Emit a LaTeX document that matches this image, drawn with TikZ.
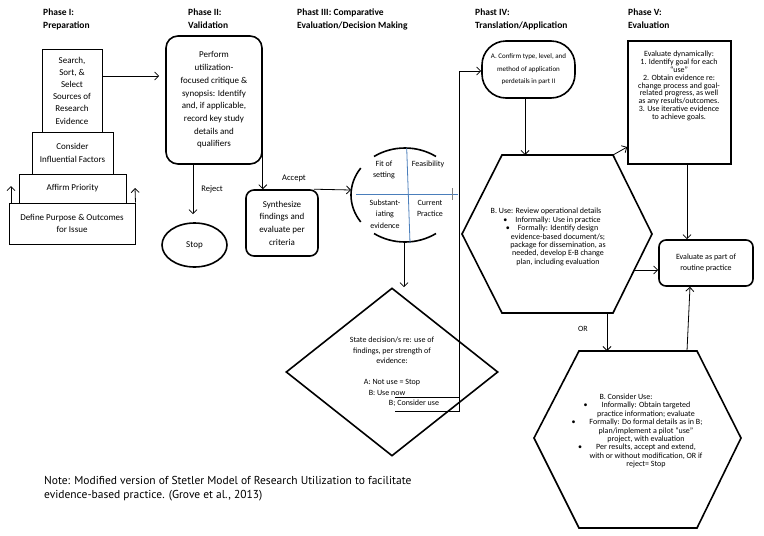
\documentclass[tikz,border=0pt]{standalone}
\usepackage{fontspec}
\setmainfont{Carlito}
\newfontfamily\notefont{PT Sans}
\usetikzlibrary{arrows.meta,shapes.geometric}
\definecolor{qline}{RGB}{74,126,187}
\begin{document}
\begin{tikzpicture}[x=1pt,y=-1pt,
  arr/.style={-{Straight Barb[length=4pt,width=8pt]}, line width=0.8pt},
  plain/.style={line width=0.8pt},
  ttl/.style={anchor=north west, inner sep=0, align=left, font=\bfseries\fontsize{9.5}{12.5}\selectfont},
  stack/.style={draw, line width=1pt, inner sep=0, align=center, font=\fontsize{9}{12.2}\selectfont},
  rbox/.style={draw, line width=1.6pt, inner sep=0, align=center, font=\fontsize{9}{12.7}\selectfont},
  lbl/.style={inner sep=0, align=center, font=\fontsize{8.5}{11}\selectfont},
  qtxt/.style={inner sep=0, align=center, font=\fontsize{8}{11.5}\selectfont},
  small/.style={inner sep=0, align=center, font=\fontsize{8}{8.4}\selectfont},
  hex/.style={draw, line width=1.6pt, line join=miter},
]
\useasboundingbox[fill=white] (0,0) rectangle (764,536);

% titles
\node[ttl] (t1) at (43,9) {Phase I:\\Preparation};
\node[ttl] (t2) at (188,9) {Phase II:\\Validation};
\node[ttl] (t3) at (297,9) {Phast III: Comparative\\Evaluation/Decision Making};
\node[ttl] (t4) at (475,9) {Phast IV:\\Translation/Application};
\node[ttl] (t5) at (628,9) {Phase V:\\Evaluation};

% Phase I stack
\node[stack, minimum width=60pt, minimum height=83pt] (s1) at (72,90.5) {Search,\\Sort, \&\\Select\\Sources of\\Research\\Evidence};
\node[stack, minimum width=81pt, minimum height=42pt] (s2) at (72.5,153) {Consider\\Influential Factors};
\node[stack, minimum width=107pt, minimum height=29pt] (s3) at (72.5,188.5) {Affirm Priority};
\node[stack, minimum width=126pt, minimum height=41pt] (s4) at (72,223.5) {Define Purpose \& Outcomes\\for Issue};
\coordinate (uL) at (11,186);
\coordinate (uR) at (135,188);
\draw[arr] (s4.north west -| uL) -- (uL);
\draw[arr] (s4.north east) -- (uR);

% Phase II
\node[rbox, minimum width=96pt, minimum height=128pt, rounded corners=12pt] (p) at (214,100) {Perform\\utilization-\\focused critique \&\\synopsis: Identify\\and, if applicable,\\record key study\\details and\\qualifiers};
\draw[arr, shorten >=6pt] (s1.east |- 0,76) -- (p.west |- 0,76);
\node[draw, ellipse, line width=1.6pt, minimum width=65pt, minimum height=44pt, inner sep=0, font=\fontsize{9}{11}\selectfont] (stop) at (194.5,245) {Stop};
\draw[arr, shorten >=8pt] (p.south -| 193,0) -- (stop.north -| 193,0);
\node[lbl] (rej) at (212,189) {Reject};
\node[rbox, minimum width=72pt, minimum height=66pt, rounded corners=8pt] (s) at (282,223) {Synthesize\\findings and\\evaluate per\\criteria};
\draw[arr] (p.east |- 0,150) -- (p.east |- s.north);
\node[lbl] (acc) at (294,178) {Accept};

% Phase III circle
\coordinate (cc) at (405,195);
\coordinate (ciL) at (351,190);
\draw[arr] ([xshift=-5pt]s.north east) -- (ciL);
\draw[line width=1.6pt] (cc) ++(55:54pt and 47pt) arc[start angle=55, end angle=125, x radius=54pt, y radius=47pt];
\draw[line width=1.6pt] (cc) ++(145:54pt and 47pt) arc[start angle=145, end angle=215, x radius=54pt, y radius=47pt];
\draw[line width=1.6pt] (cc) ++(235:54pt and 47pt) arc[start angle=235, end angle=305, x radius=54pt, y radius=47pt];
\draw[qline, line width=0.8pt] (356,194) -- (458,194);
\draw[qline, line width=0.8pt] (406.7,148) -- (410,243);
\draw[gray, line width=0.6pt] (452,188) -- (452,200);
\node[qtxt] (q1) at (384,170) {Fit of\\setting};
\node[qtxt] (q2) at (428,164) {Feasibility};
\node[qtxt] (q3) at (385,214) {Substant-\\iating\\evidence};
\node[qtxt] (q4) at (430,208.5) {Current\\Practice};

% diamond
\node[diamond, draw, line width=1.6pt, minimum width=212pt, minimum height=168pt, inner sep=0] (d) at (392,372) {};
\coordinate (cB) at (404,243);
\draw[arr] (cB) -- (cB |- d.north);
\node[inner sep=0, align=center, font=\fontsize{8}{10.5}\selectfont] (dt) at (392,372) {State decision/s re: use of\\findings, per strength of\\evidence:\\[10.5pt]A: Not use = Stop\\\hspace*{-10pt}B: Use now\\\hspace*{44pt}B; Consider use};

% Phase IV
\node[rbox, minimum width=93pt, minimum height=57pt, rounded corners=24pt, font=\fontsize{7}{12.5}\selectfont] (a) at (528.5,69.5) {A. Confirm type, level, and\\method of application\\perdetails in part II};
\coordinate (k1) at (395,397);
\coordinate (k2) at (395,411);
\coordinate (kv) at (459,71);
\draw[plain] (k1) -- (k1 -| kv);
\draw[arr] (k2) -- (k2 -| kv) -- (kv) -- (a.west |- kv);

\coordinate (bTL) at (502,155);
\coordinate (bTR) at (613,155);
\coordinate (bR) at (652,234);
\coordinate (bBR) at (613,313);
\coordinate (bBL) at (502,313);
\coordinate (bL) at (462,234);
\draw[hex] (bTL) -- (bTR) -- (bR) -- (bBR) -- (bBL) -- (bL) -- cycle;
\draw[arr] (a.south -| 525,0) -- (bTL -| 525,0);
\node[small] (hb) at (558,237) {\hspace*{-24pt}B. Use: Review operational details\\
\llap{\textbullet\hspace{8pt}}Informally: Use in practice\\
\llap{\textbullet\hspace{8pt}}Formally: Identify design\\
evidence-based document/s;\\
package for dissemination, as\\
needed, develop E-B change\\
plan, including evaluation};

\coordinate (cTL) at (579,351);
\coordinate (cTR) at (697,351);
\coordinate (cR) at (741,438);
\coordinate (cBR) at (697,528);
\coordinate (cBL) at (579,528);
\coordinate (cL) at (534,438);
\draw[hex] (cTL) -- (cTR) -- (cR) -- (cBR) -- (cBL) -- (cL) -- cycle;
\node[small] (hc) at (646,431) {\hspace*{-40pt}B. Consider Use:\\
\llap{\textbullet\hspace{14pt}}Informally: Obtain targeted\\
practice information; evaluate\\
\llap{\textbullet\hspace{14pt}}Formally: Do formal details as in B;\\
plan/implement a pilot “use”\\
project, with evaluation\\
\llap{\textbullet\hspace{14pt}}Per results, accept and extend,\\
with or without modification, OR if\\
reject= Stop};
\draw[arr] (bBR -| 607,0) -- (cTL -| 607,0);
\node[lbl, font=\fontsize{8}{10}\selectfont] (or) at (583,329) {OR};

% Phase V
\node[draw, line width=1.6pt, minimum width=103pt, minimum height=123pt, inner sep=0] (e) at (679.5,102.5) {};
\node[small, font=\fontsize{8}{7.9}\selectfont] (et) at (679,86) {Evaluate dynamically:\\1. Identify goal for each\\“use”\\2. Obtain evidence re:\\change process and goal-\\related progress, as well\\as any results/outcomes.\\3. Use iterative evidence\\to achieve goals.};
\draw[arr] (bTR) -- (e.west |- 0,147);
\node[rbox, rounded corners=7pt, minimum width=94pt, minimum height=46pt, font=\fontsize{8}{11.5}\selectfont] (r) at (706,263) {Evaluate as part of\\routine practice};
\draw[arr] (e.south -| 687,0) -- (r.north -| 687,0);
\coordinate (bh) at (634,270);
\draw[arr] (bh) -- (r.west |- bh);
\coordinate (cq) at (687,351);
\draw[arr] (cq) -- (r.south -| 690,0);

% note
\node[anchor=north west, align=left, inner sep=0, font=\notefont\fontsize{11.5}{14}\selectfont] (note) at (44,476) {Note: Modified version of Stetler Model of Research Utilization to facilitate\\evidence-based practice. (Grove et al., 2013)};
\end{tikzpicture}
\end{document}
